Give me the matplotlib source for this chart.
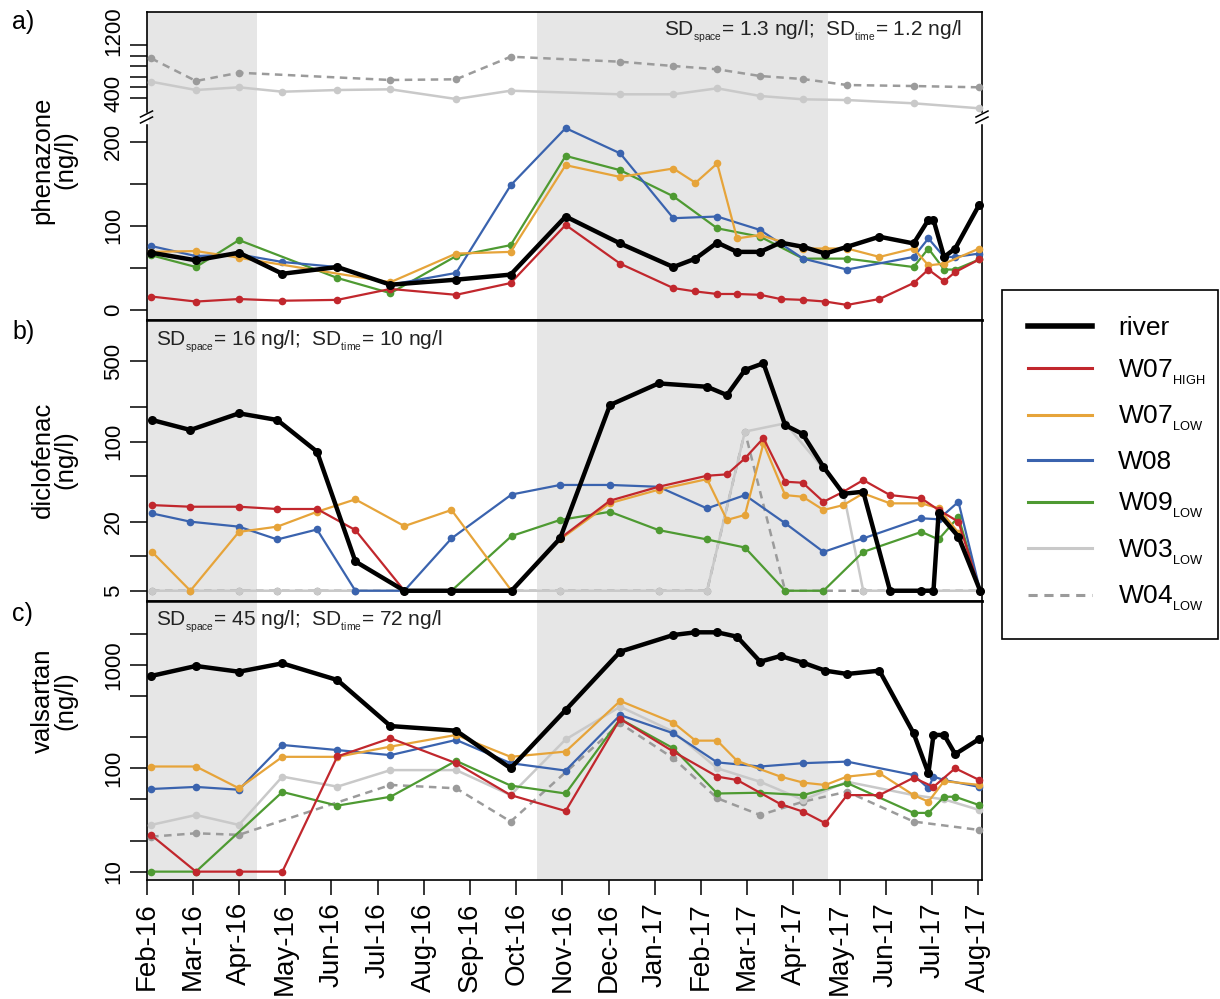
import numpy as np
import matplotlib.pyplot as plt
from matplotlib.lines import Line2D
from matplotlib.transforms import offset_copy

plt.rcParams['font.family'] = ['Liberation Sans', 'DejaVu Sans']
plt.rcParams['mathtext.fontset'] = 'custom'
plt.rcParams['mathtext.rm'] = 'Liberation Sans'
plt.rcParams['mathtext.it'] = 'Liberation Sans:italic'

# month axis: 0 = Feb-16 ... 18 = Aug-17
months = ['Feb-16', 'Mar-16', 'Apr-16', 'May-16', 'Jun-16', 'Jul-16', 'Aug-16',
          'Sep-16', 'Oct-16', 'Nov-16', 'Dec-16', 'Jan-17', 'Feb-17', 'Mar-17',
          'Apr-17', 'May-17', 'Jun-17', 'Jul-17', 'Aug-17']
low_flow = [(0.0, 2.39), (8.45, 14.74)]

# sampling dates (months since Feb-16) for phenazone and valsartan
t_ac = [0.1, 1.07, 2.0, 2.94, 4.13, 5.28, 6.7, 7.88, 9.07, 10.25, 11.4, 11.88, 12.35,
        12.78, 13.28, 13.72, 14.21, 14.69, 15.16, 15.86, 16.6, 16.92, 17.03, 17.26,
        17.5, 18.02]
# sampling dates for diclofenac
t_b = [0.12, 0.95, 2.0, 2.83, 3.69, 4.52, 5.58, 6.6, 7.9, 8.95, 10.03, 11.08, 12.13,
       12.56, 12.95, 13.35, 13.82, 14.2, 14.65, 15.08, 15.51, 16.09, 16.77, 17.03,
       17.14, 17.57, 18.04]

N = None
# a) phenazone (ng/l)
phen_river = [68, 59, 68, 43, 51, 30, 36, 42, 111, 79, 51, 61, 80, 69, 69, 80, 75, 67,
              75, 87, 79, 107, 107, 63, 73, 125]
phen_w07h = [16, 10, 13, 11, 12, 25, 18, 32, 101, 55, 26, 22, 19, 19, 18, 13, 12, 10,
             6, 13, 32, 48, N, 34, 45, 60]
phen_w07l = [69, 70, 62, N, N, 33, 67, 69, 172, 158, 168, 151, 174, 85, 89, N, 73, 73,
             73, 63, 73, 53, N, 55, N, 73]
phen_w08 = [76, 64, 66, 57, 51, 30, 44, 148, 216, 186, 109, N, 111, N, 95, N, 61, N,
            48, N, 63, 85, N, 63, 63, 67]
phen_w09 = [65, 51, 83, N, 38, 20, 64, 77, 183, 166, 135, N, 97, N, 87, N, 61, N, 61,
            N, 51, 73, N, 48, 48, 60]
phen_w03 = [708, 551, 602, 519, 551, 564, 381, 538, N, 470, 470, N, 583, N, 438, N,
            375, N, 362, N, 300, N, N, N, N, 206]
phen_w04 = [1149, 721, 877, N, N, 740, 753, 1179, N, 1085, 1004, N, 942, N, 815, N,
            758, N, 645, N, 626, N, N, N, N, 602]

# b) diclofenac (ng/l)
dicl_river = [154, 126, 176, 154, 81.5, 9, 5, 5, 5, 14.3, 208, 321, 300, 254, 420, 481,
              139, 116, 60, 35, 36.5, 5, 5, 5, 23.6, 14.8, 5]
dicl_w07h = [27.9, 27, 27, 25.8, 25.8, 16.9, 5, 5, 5, 14.3, 30.5, 40.3, 50.3, 51.7, 71.3,
             107, 44.6, 43.7, 29.8, 36.5, 46.1, 34.1, 31.9, N, 25.3, 20, 5]
dicl_w07l = [10.9, 5, 16.3, 18.1, 24.4, 31.3, 18.3, 25.3, 5, 14, 29, 38, 47, 20.7, 22.9,
             96.4, 34.1, 33, 25.3, 27.9, 35.3, 28.9, 28.9, N, 26.2, 16, 5]
dicl_w08 = [23.6, 20, 18.1, 14, 17.1, 5, 5, 14.3, 34.5, 41.8, 41.8, 40.3, 26.1, N, 34.1,
            N, 19.4, N, 10.9, N, 14.3, N, 21.4, N, 21, 29.8, 5]
dicl_w09 = [N, N, N, N, N, N, N, 5, 15, 20.7, 24.4, 16.9, 14, N, 11.9, N, 5, N, 5, N,
            10.9, N, 16.3, N, 14, 22, 5]
dicl_w03 = [5, 5, 5, 5, 5, 5, 5, 5, 5, 5, N, 5, 5, N, 122, N, 144, N, N, 36, 5, 5, 5,
            N, N, N, 5]
dicl_w04 = [5, 5, 5, 5, 5, 5, 5, 5, 5, 5, N, 5, 5, N, 122, N, 5, N, 5, N, 5, 5, 5, N,
            N, N, 5]

# c) valsartan (ng/l)
vals_river = [781, 976, 859, 1035, 714, 256, 231, 100, 366, 1342, 1946, 2066, 2066, 1874,
              1074, 1219, 1050, 879, 817, 879, 218, 89.5, 210, 210, 137, 192]
vals_w07h = [22.6, 10, 10, 10, 130, 195, 112, 55, 38.6, 300, 145, N, 83, 77, N, 45, 38,
             29.4, 55, 55, 81, N, 66, N, 100, 77]
vals_w07l = [104, 104, 64, 129, 129, 162, 210, 129, 145, 448, 276, 185, 185, 118, N, 83,
             72.6, 68.9, 83, 89.5, 55, 47.5, N, 75, N, 69]
vals_w08 = [63, 66, 62, 168, 150, 134, 188, 112, 95, 327, 218, N, 114, N, 104, N, 112, N,
            116, N, 86, 64, 83, 77, N, 66]
vals_w09 = [10, 10, N, 59, 43.5, 53, 118, 68, 57, 300, 156, N, 57, N, 58, N, 55, N, 72,
            N, 37, 37, N, 53, 53, 44]
vals_w03 = [28.3, 35.3, 28.3, 83, 66.4, 96, 96, 55, 190, 394, 226, N, 100, N, 74, N,
            49.4, N, 74, N, 55, N, N, 50, N, 39.5]
vals_w04 = [21.8, 23.5, 22.7, N, N, 69, 64, 30.5, N, 272, 125, N, 51.3, N, 35.3, N, 47.5,
            N, 59.4, N, 30.5, N, N, N, N, 25.3]

names = ['river', 'W07$_{_{\\rm HIGH}}$', 'W07$_{_{\\rm LOW}}$', 'W08',
         'W09$_{_{\\rm LOW}}$', 'W03$_{_{\\rm LOW}}$', 'W04$_{_{\\rm LOW}}$']
colors = ['black', '#c1272d', '#e6a43a', '#3a63ae', '#4e9a32', '#c9c9c9', '#9b9b9b']
widths = [3.2, 1.6, 1.6, 1.6, 1.6, 1.8, 1.8]
dashes = ['-', '-', '-', '-', '-', '-', (0, (3, 2.2))]
zorders = [10, 8, 7, 6, 5, 4, 3]


def pts(t, v):
    t = np.asarray(t, float)
    v = np.array([np.nan if x is None else x for x in v], float)
    ok = ~np.isnan(v)
    return t[ok], v[ok]


def draw(ax, t, series, idx):
    for k, s in zip(idx, series):
        x, y = pts(t, s)
        ax.plot(x, y, color=colors[k], lw=widths[k], ls=dashes[k], marker='o',
                ms=6.5 if k == 0 else 5.5, mew=0, zorder=zorders[k], clip_on=False)


W, H = 1220, 999


def box(x0, y0, x1, y1):
    return [x0 / W, 1 - y1 / H, (x1 - x0) / W, (y1 - y0) / H]


fig = plt.figure(figsize=(W / 100, H / 100), dpi=100)
XL, XR = 146.5, 982
ax_at = fig.add_axes(box(XL, 12, XR, 119))
ax_ab = fig.add_axes(box(XL, 119, XR, 320))
ax_b = fig.add_axes(box(XL, 320, XR, 601))
ax_c = fig.add_axes(box(XL, 601, XR, 880))

for ax in (ax_at, ax_ab, ax_b, ax_c):
    ax.set_xlim(0, 18.08)
    for a, b in low_flow:
        ax.axvspan(a, b, color='#e6e6e6', lw=0, zorder=0)
    for sp in ax.spines.values():
        sp.set_linewidth(1.2)
    ax.tick_params(axis='x', bottom=False, labelbottom=False)
    ax.tick_params(axis='y', length=12, width=1.1, labelsize=16, pad=4,
                   labelrotation=90)

ax_at.spines['bottom'].set_visible(False)
ax_ab.spines['top'].set_visible(False)
ax_ab.spines['bottom'].set_linewidth(1.8)
ax_b.spines['top'].set_linewidth(1.8)
ax_b.spines['bottom'].set_linewidth(1.8)
ax_c.spines['top'].set_linewidth(1.8)

# a) broken axis: wells W03/W04 on the compressed upper part
draw(ax_at, t_ac, [phen_w03, phen_w04], [5, 6])
draw(ax_ab, t_ac, [phen_w09, phen_w08, phen_w07l, phen_w07h, phen_river], [4, 3, 2, 1, 0])
ax_at.set_ylim(4, 2023)
ax_at.set_yticks([400, 600, 800, 1000, 1200, 1400])
ax_at.set_yticklabels([])
# labels of the upper part sit a little above their ticks
for val, up in ((400, 5), (1200, 24)):
    tr = offset_copy(ax_at.get_yaxis_transform(), fig=fig, x=-22, y=up, units='dots')
    ax_at.text(0, val, str(val), transform=tr, rotation=90, ha='right', va='center',
               fontsize=16)
ax_ab.set_ylim(-11.9, 226.8)
ax_ab.set_yticks([0, 50, 100, 150, 200])
ax_ab.set_yticklabels(['0', '', '100', '', '200'])

# b) diclofenac
draw(ax_b, t_b, [dicl_w04, dicl_w03, dicl_w09, dicl_w08, dicl_w07l, dicl_w07h, dicl_river],
     [6, 5, 4, 3, 2, 1, 0])
ax_b.set_yscale('log')
ax_b.set_ylim(4.07, 1146)
ax_b.set_yticks([5, 10, 20, 50, 100, 200, 500])
ax_b.set_yticklabels(['5', '', '20', '', '100', '', '500'])
ax_b.minorticks_off()

# c) valsartan
draw(ax_c, t_ac, [vals_w04, vals_w03, vals_w09, vals_w08, vals_w07l, vals_w07h, vals_river],
     [6, 5, 4, 3, 2, 1, 0])
ax_c.set_yscale('log')
ax_c.set_ylim(8.3, 4150)
ax_c.set_yticks([10, 20, 50, 100, 200, 500, 1000, 2000])
ax_c.set_yticklabels(['10', '', '', '100', '', '', '1000', ''])
ax_c.minorticks_off()
ax_c.set_xticks(range(len(months)))
ax_c.set_xticklabels(months, rotation=90)
ax_c.tick_params(axis='x', bottom=True, labelbottom=True, length=11, width=1.1,
                 labelsize=20, pad=5)

for ax in (ax_at, ax_ab, ax_b, ax_c):
    for lab in ax.get_yticklabels():
        lab.set_va('center')

# break marks on the phenazone axis
for xp in (XL, XR):
    fig.add_artist(Line2D([xp / W, xp / W], [1 - 114 / H, 1 - 122 / H], color='white',
                          lw=2.5, zorder=20))
    for dy in (-3, 3):
        fig.add_artist(Line2D([(xp - 6) / W, (xp + 6) / W],
                              [1 - (120 + dy) / H, 1 - (114 + dy) / H],
                              color='black', lw=1.1, zorder=21))

sd = 'SD$_{_{\\rm space}}$= %s ng/l;  SD$_{_{\\rm time}}$= %s ng/l'
fig.text(962 / W, 1 - 32 / H, sd % ('1.3', '1.2'), ha='right', va='center', fontsize=15,
         color='#222222')
fig.text(156 / W, 1 - 342 / H, sd % ('16', '10'), ha='left', va='center', fontsize=15,
         color='#222222')
fig.text(156 / W, 1 - 622 / H, sd % ('45', '72'), ha='left', va='center', fontsize=15,
         color='#222222')

for lab, yc in (('a)', 22), ('b)', 332), ('c)', 614)):
    fig.text(12 / W, 1 - yc / H, lab, fontsize=18, va='center', ha='left')
for lab, yc in (('phenazone\n(ng/l)', 160), ('diclofenac\n(ng/l)', 460),
                ('valsartan\n(ng/l)', 701)):
    fig.text(54 / W, 1 - yc / H, lab, fontsize=18.5, rotation=90, ha='center',
             va='center', linespacing=0.95, multialignment='center')

handles = [Line2D([], [], color=colors[k], lw=(4 if k == 0 else 2.2), ls=dashes[k])
           for k in range(7)]
leg = fig.legend(handles, names, loc='upper left',
                 bbox_to_anchor=(1002 / W, 1 - 290 / H, (1218 - 1002) / W, 0),
                 mode='expand', fontsize=19, handlelength=2.4, handletextpad=1.0,
                 borderpad=1.0, labelspacing=0.65, fancybox=False, framealpha=1,
                 edgecolor='black', borderaxespad=0)
leg.get_frame().set_linewidth(1.2)

fig.savefig('out.png', dpi=100)
